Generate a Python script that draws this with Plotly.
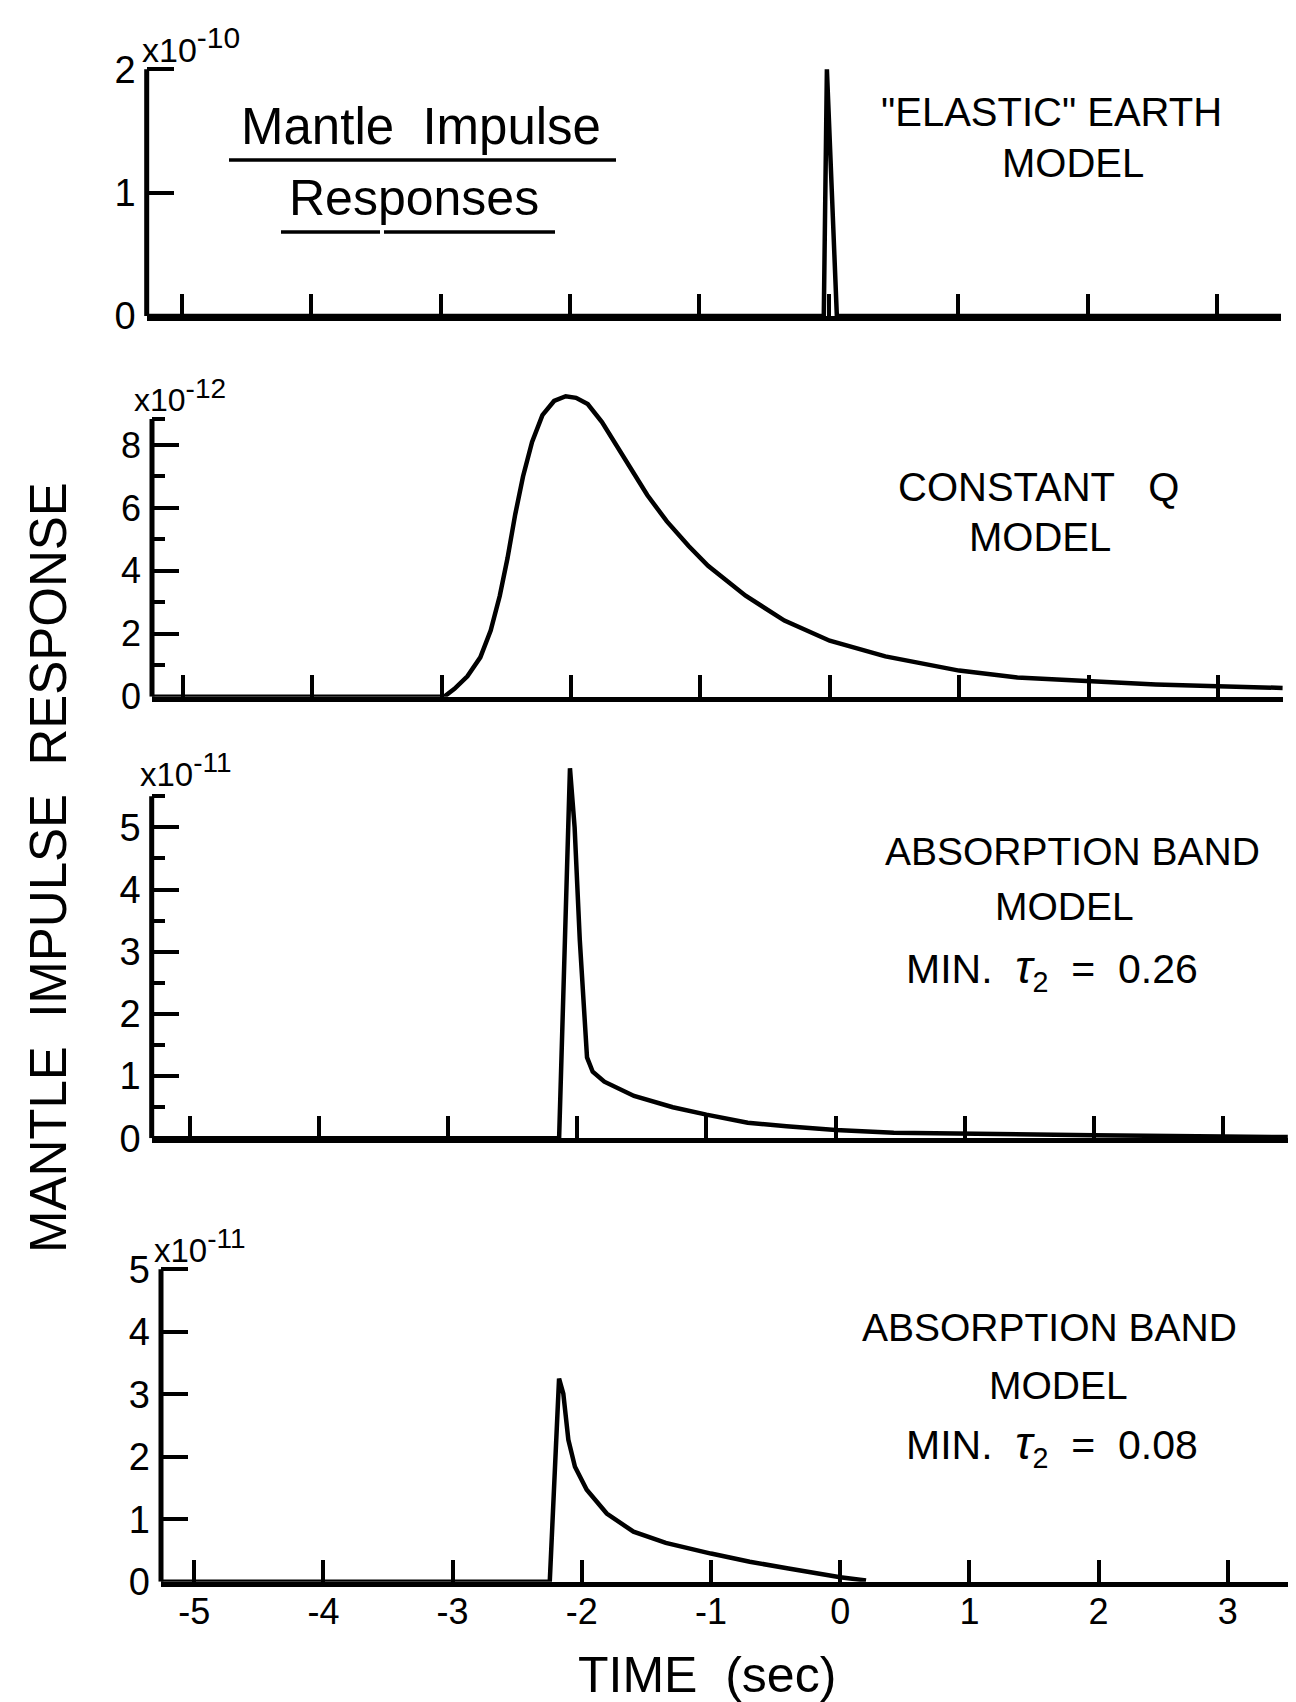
import plotly.graph_objects as go

# ---------------- data (time in s, response in units of the panel multiplier) -------------
x_ticks = [-5, -4, -3, -2, -1, 0, 1, 2, 3]
x_tick_labels = ["-5", "-4", "-3", "-2", "-1", "0", "1", "2", "3"]

# Panel 1: "ELASTIC" EARTH MODEL  (x 1e-10)
t_elastic = [-5.27, -0.038, -0.014, 0.063, 3.5]
r_elastic = [0.0, 0.0, 2.0, 0.0, 0.0]

# Panel 2: CONSTANT Q MODEL (x 1e-12)
t_constq = [-5.24, -2.98, -2.90, -2.80, -2.70, -2.62, -2.55, -2.49, -2.43, -2.37, -2.30,
            -2.22, -2.13, -2.04, -1.96, -1.87, -1.76, -1.64, -1.52, -1.41, -1.26, -1.09,
            -0.94, -0.65, -0.35, 0.0, 0.43, 1.0, 1.45, 2.0, 2.52, 3.0, 3.5]
r_constq = [0.0, 0.0, 0.25, 0.65, 1.25, 2.1, 3.2, 4.4, 5.8, 7.0, 8.1,
            8.95, 9.4, 9.55, 9.5, 9.3, 8.73, 7.95, 7.13, 6.41, 5.58, 4.79,
            4.16, 3.21, 2.42, 1.78, 1.28, 0.83, 0.61, 0.48, 0.39, 0.33, 0.28]

# Panel 3: ABSORPTION BAND MODEL, MIN tau2 = 0.26 (x 1e-11)
t_ab26 = [-5.29, -2.14, -2.056, -2.02, -1.98, -1.955, -1.924, -1.88, -1.79, -1.56,
          -1.26, -1.0, -0.68, -0.38, 0.0, 0.45, 1.0, 2.0, 3.0, 3.5]
r_ab26 = [0.0, 0.0, 5.95, 5.0, 3.19, 2.2, 1.3, 1.07, 0.91, 0.68,
          0.5, 0.38, 0.25, 0.195, 0.135, 0.09, 0.07, 0.05, 0.03, 0.02]

# Panel 4: ABSORPTION BAND MODEL, MIN tau2 = 0.08 (x 1e-11)
t_ab08 = [-5.26, -2.248, -2.176, -2.143, -2.104, -2.053, -1.962, -1.807, -1.60, -1.35,
          -1.0, -0.7, -0.4, -0.2, 0.0, 0.2]
r_ab08 = [0.0, 0.0, 3.25, 3.01, 2.27, 1.84, 1.47, 1.09, 0.80, 0.62,
          0.45, 0.32, 0.21, 0.14, 0.07, 0.02]

# y tick definitions per panel
y1_ticks = [0, 1, 2]
y2_ticks = [0, 2, 4, 6, 8]
y2_minor = [1, 3, 5, 7, 8.83]
y3_ticks = [0, 1, 2, 3, 4, 5]
y3_minor = [0.5, 1.5, 2.5, 3.5, 4.5, 5.5]
y4_ticks = [0, 1, 2, 3, 4, 5]

# ---------------- layout geometry (page pixels; the html body adds an 8 px margin) --------
OFF = 8
W, H = 1296 - OFF, 1702 - OFF
FONT = "Liberation Sans, Arial, Helvetica, sans-serif"


def fx(px):
    return (px - OFF) / W


def fy(py):
    return 1 - (py - OFF) / H


panels = [
    # left px, right px, px of x=-5, px per second, zero px, px per unit, ytop, axis top value
    dict(L=146.7, R=1281, x5=181.7, ux=129.4, y0=316.0, uy=123.35, ytop=2.06, atop=2.0),
    dict(L=152.0, R=1283, x5=182.7, ux=129.4, y0=696.7, uy=31.46, ytop=9.8, atop=8.83),
    dict(L=151.7, R=1288, x5=189.6, ux=129.2, y0=1138.3, uy=62.2, ytop=6.1, atop=5.5),
    dict(L=161.0, R=1290, x5=194.2, ux=129.2, y0=1581.7, uy=62.5, ytop=5.05, atop=5.0),
]

series = [(t_elastic, r_elastic), (t_constq, r_constq), (t_ab26, r_ab26), (t_ab08, r_ab08)]
yticks = [(y1_ticks, None), (y2_ticks, y2_minor), (y3_ticks, y3_minor), (y4_ticks, None)]
ylab_size = [38, 36, 38, 38]

fig = go.Figure()
layout = dict(
    width=W, height=H, margin=dict(l=0, r=0, t=0, b=0, pad=0, autoexpand=False),
    paper_bgcolor="white", plot_bgcolor="white", showlegend=False,
    font=dict(family=FONT, color="black"),
)
shapes = []

for i, (p, (tx, ry), (yt, ym)) in enumerate(zip(panels, series, yticks)):
    k = "" if i == 0 else str(i + 1)
    xmin = -5 - (p["x5"] - p["L"]) / p["ux"]
    xmax = -5 + (p["R"] - p["x5"]) / p["ux"]
    ytop_px = p["y0"] - p["ytop"] * p["uy"]
    fig.add_trace(go.Scatter(x=tx, y=ry, mode="lines", xaxis="x" + k, yaxis="y" + k,
                             line=dict(color="black", width=4.5), hoverinfo="skip"))
    layout["xaxis" + k] = dict(
        domain=[fx(p["L"]), fx(p["R"])], range=[xmin, xmax], anchor="y" + k,
        showline=True, linewidth=5, linecolor="black", showgrid=False, zeroline=False,
        ticks="inside", ticklen=22, tickwidth=4, tickcolor="black",
        tickvals=x_ticks, ticktext=x_tick_labels, automargin=False,
        showticklabels=(i == 3), tickfont=dict(size=36, family=FONT, color="black"),
        ticklabelstandoff=-6, fixedrange=True,
    )
    ya = dict(
        domain=[fy(p["y0"]), fy(ytop_px)], range=[0, p["ytop"]], anchor="x" + k,
        showline=False, showgrid=False, zeroline=False, automargin=False,
        ticks="inside", ticklen=27, tickwidth=4, tickcolor="black",
        tickvals=yt, ticktext=[str(v) for v in yt],
        tickfont=dict(size=ylab_size[i], family=FONT, color="black"),
        ticklabelstandoff=10, fixedrange=True,
    )
    if ym:
        ya["minor"] = dict(tickvals=ym, ticks="inside", ticklen=13, tickwidth=4,
                           tickcolor="black", showgrid=False)
    layout["yaxis" + k] = ya
    shapes.append(dict(type="line", xref=f"x{k} domain", yref="y" + k, x0=0, x1=0,
                       y0=0, y1=p["atop"], line=dict(color="black", width=5)))

annotations = []


def ann(text, px, py, size, xanchor="center", angle=0):
    annotations.append(dict(text=text, x=fx(px), y=fy(py), xref="paper", yref="paper",
                            showarrow=False, xanchor=xanchor, yanchor="middle",
                            textangle=angle,
                            font=dict(size=size, family=FONT, color="black")))


NB = "\u00a0"
TAU = "<i><span style='font-size:46px'>τ</span></i><sub>2</sub>"


def mult(exp, size):
    return "x10<sup><span style='font-size:%dpx'>%s</span></sup>" % (size, exp)


# multipliers
ann(mult("-10", 30), 140, 45, 34, xanchor="left")
ann(mult("-12", 28), 132, 396, 32, xanchor="left")
ann(mult("-11", 28), 138, 770, 33, xanchor="left")
ann(mult("-11", 28), 152, 1246, 33, xanchor="left")

# panel titles
ann("Mantle" + NB + " Impulse", 421, 127, 51)
ann("Responses", 414, 198, 50)
ann("\"ELASTIC\" EARTH", 1051, 112, 40)
ann("MODEL", 1073, 163, 40)
ann("CONSTANT" + NB * 3 + "Q", 1038, 487, 40)
ann("MODEL", 1040, 537, 40)
ann("ABSORPTION BAND", 1072, 851, 39)
ann("MODEL", 1064, 906, 39)
ann("MIN." + NB * 2 + TAU + NB * 2 + "=" + NB * 2 + "0.26", 1052, 969, 41)
ann("ABSORPTION BAND", 1049, 1327, 39)
ann("MODEL", 1058, 1385, 39)
ann("MIN." + NB * 2 + TAU + NB * 2 + "=" + NB * 2 + "0.08", 1052, 1445, 41)

# axis titles
ann("MANTLE" + NB + " IMPULSE" + NB + " RESPONSE", 48, 868, 51, angle=-90)
ann("TIME" + NB + " (sec)", 707, 1675, 50)

# underlines of the heading
for (x0, x1, yy) in [(229, 616, 160), (281, 380, 232), (384, 555, 232)]:
    shapes.append(dict(type="line", xref="paper", yref="paper", x0=fx(x0), x1=fx(x1),
                       y0=fy(yy), y1=fy(yy), line=dict(color="black", width=3.5)))

layout["shapes"] = shapes
layout["annotations"] = annotations
fig.update_layout(**layout)
fig.write_html("out.html")
